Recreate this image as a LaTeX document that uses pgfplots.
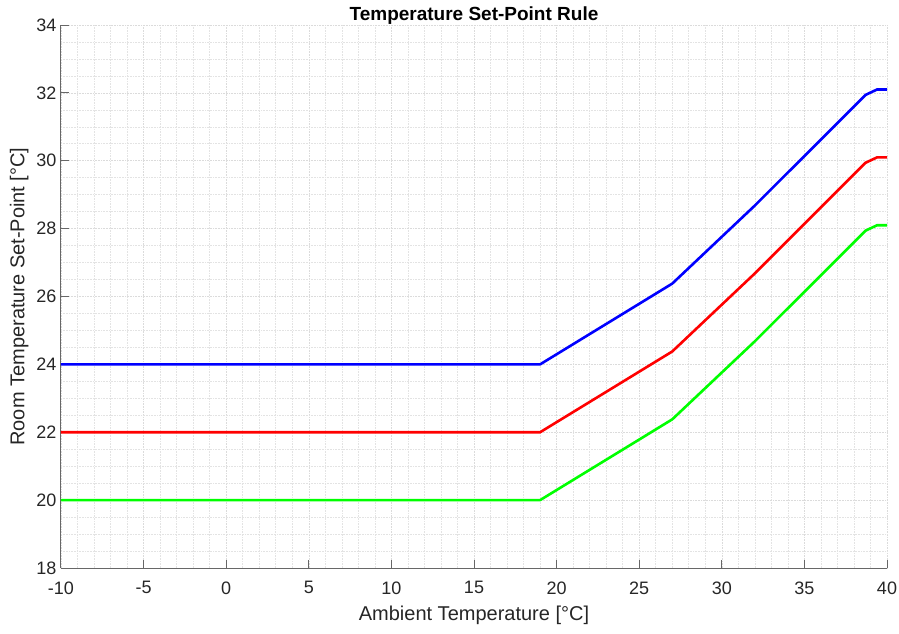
\documentclass[border=0pt]{standalone}
\usepackage{fontspec}
\setmainfont{Liberation Sans}
\usepackage{pgfplots}
\pgfplotsset{compat=1.18}
\definecolor{axc}{RGB}{38,38,38}
\begin{document}
\begin{tikzpicture}
\useasboundingbox (0,0) rectangle (899pt,633pt);
\begin{axis}[
  at={(61pt,65pt)}, anchor=south west,
  scale only axis, width=826pt, height=543pt,
  xmin=-10, xmax=40, ymin=18, ymax=34,
  xtick={-10,-5,...,40}, ytick={18,20,...,34},
  minor x tick num=4, minor y tick num=3,
  axis x line=bottom, axis y line=left,
  axis line style={-, draw=axc!70, line width=1pt},
  tick style={draw=axc!70, line width=1pt},
  major tick length=8pt, minor tick length=0pt,
  tick align=inside,
  grid=both,
  major grid style={draw=black!14, line width=0.6pt, densely dotted},
  minor grid style={draw=black!11, line width=0.6pt, densely dotted},
  /pgf/number format/assume math mode=true,
  ticklabel style={font=\fontsize{18}{20}\selectfont, text=axc},
  xticklabel style={yshift=-10pt},
  yticklabel style={xshift=-1pt},
  xlabel={Ambient Temperature [°C]},
  ylabel={Room Temperature Set-Point [°C]},
  label style={font=\fontsize{20}{23}\selectfont, text=axc},
  xlabel style={yshift=-5pt},
  ylabel style={yshift=1pt},
  title={Temperature Set-Point Rule},
  title style={font=\bfseries\fontsize{19}{22}\selectfont, yshift=-9pt},
  clip=false,
]
\addplot[blue, line width=2.6pt] coordinates {(-10,24) (19,24) (27,26.38) (32,28.68) (38.7,31.94) (39.4,32.1) (40,32.1)};
\addplot[red, line width=2.6pt] coordinates {(-10,22) (19,22) (27,24.38) (32,26.68) (38.7,29.94) (39.4,30.1) (40,30.1)};
\addplot[green, line width=2.6pt] coordinates {(-10,20) (19,20) (27,22.38) (32,24.68) (38.7,27.94) (39.4,28.1) (40,28.1)};
\end{axis}
\end{tikzpicture}
\end{document}
